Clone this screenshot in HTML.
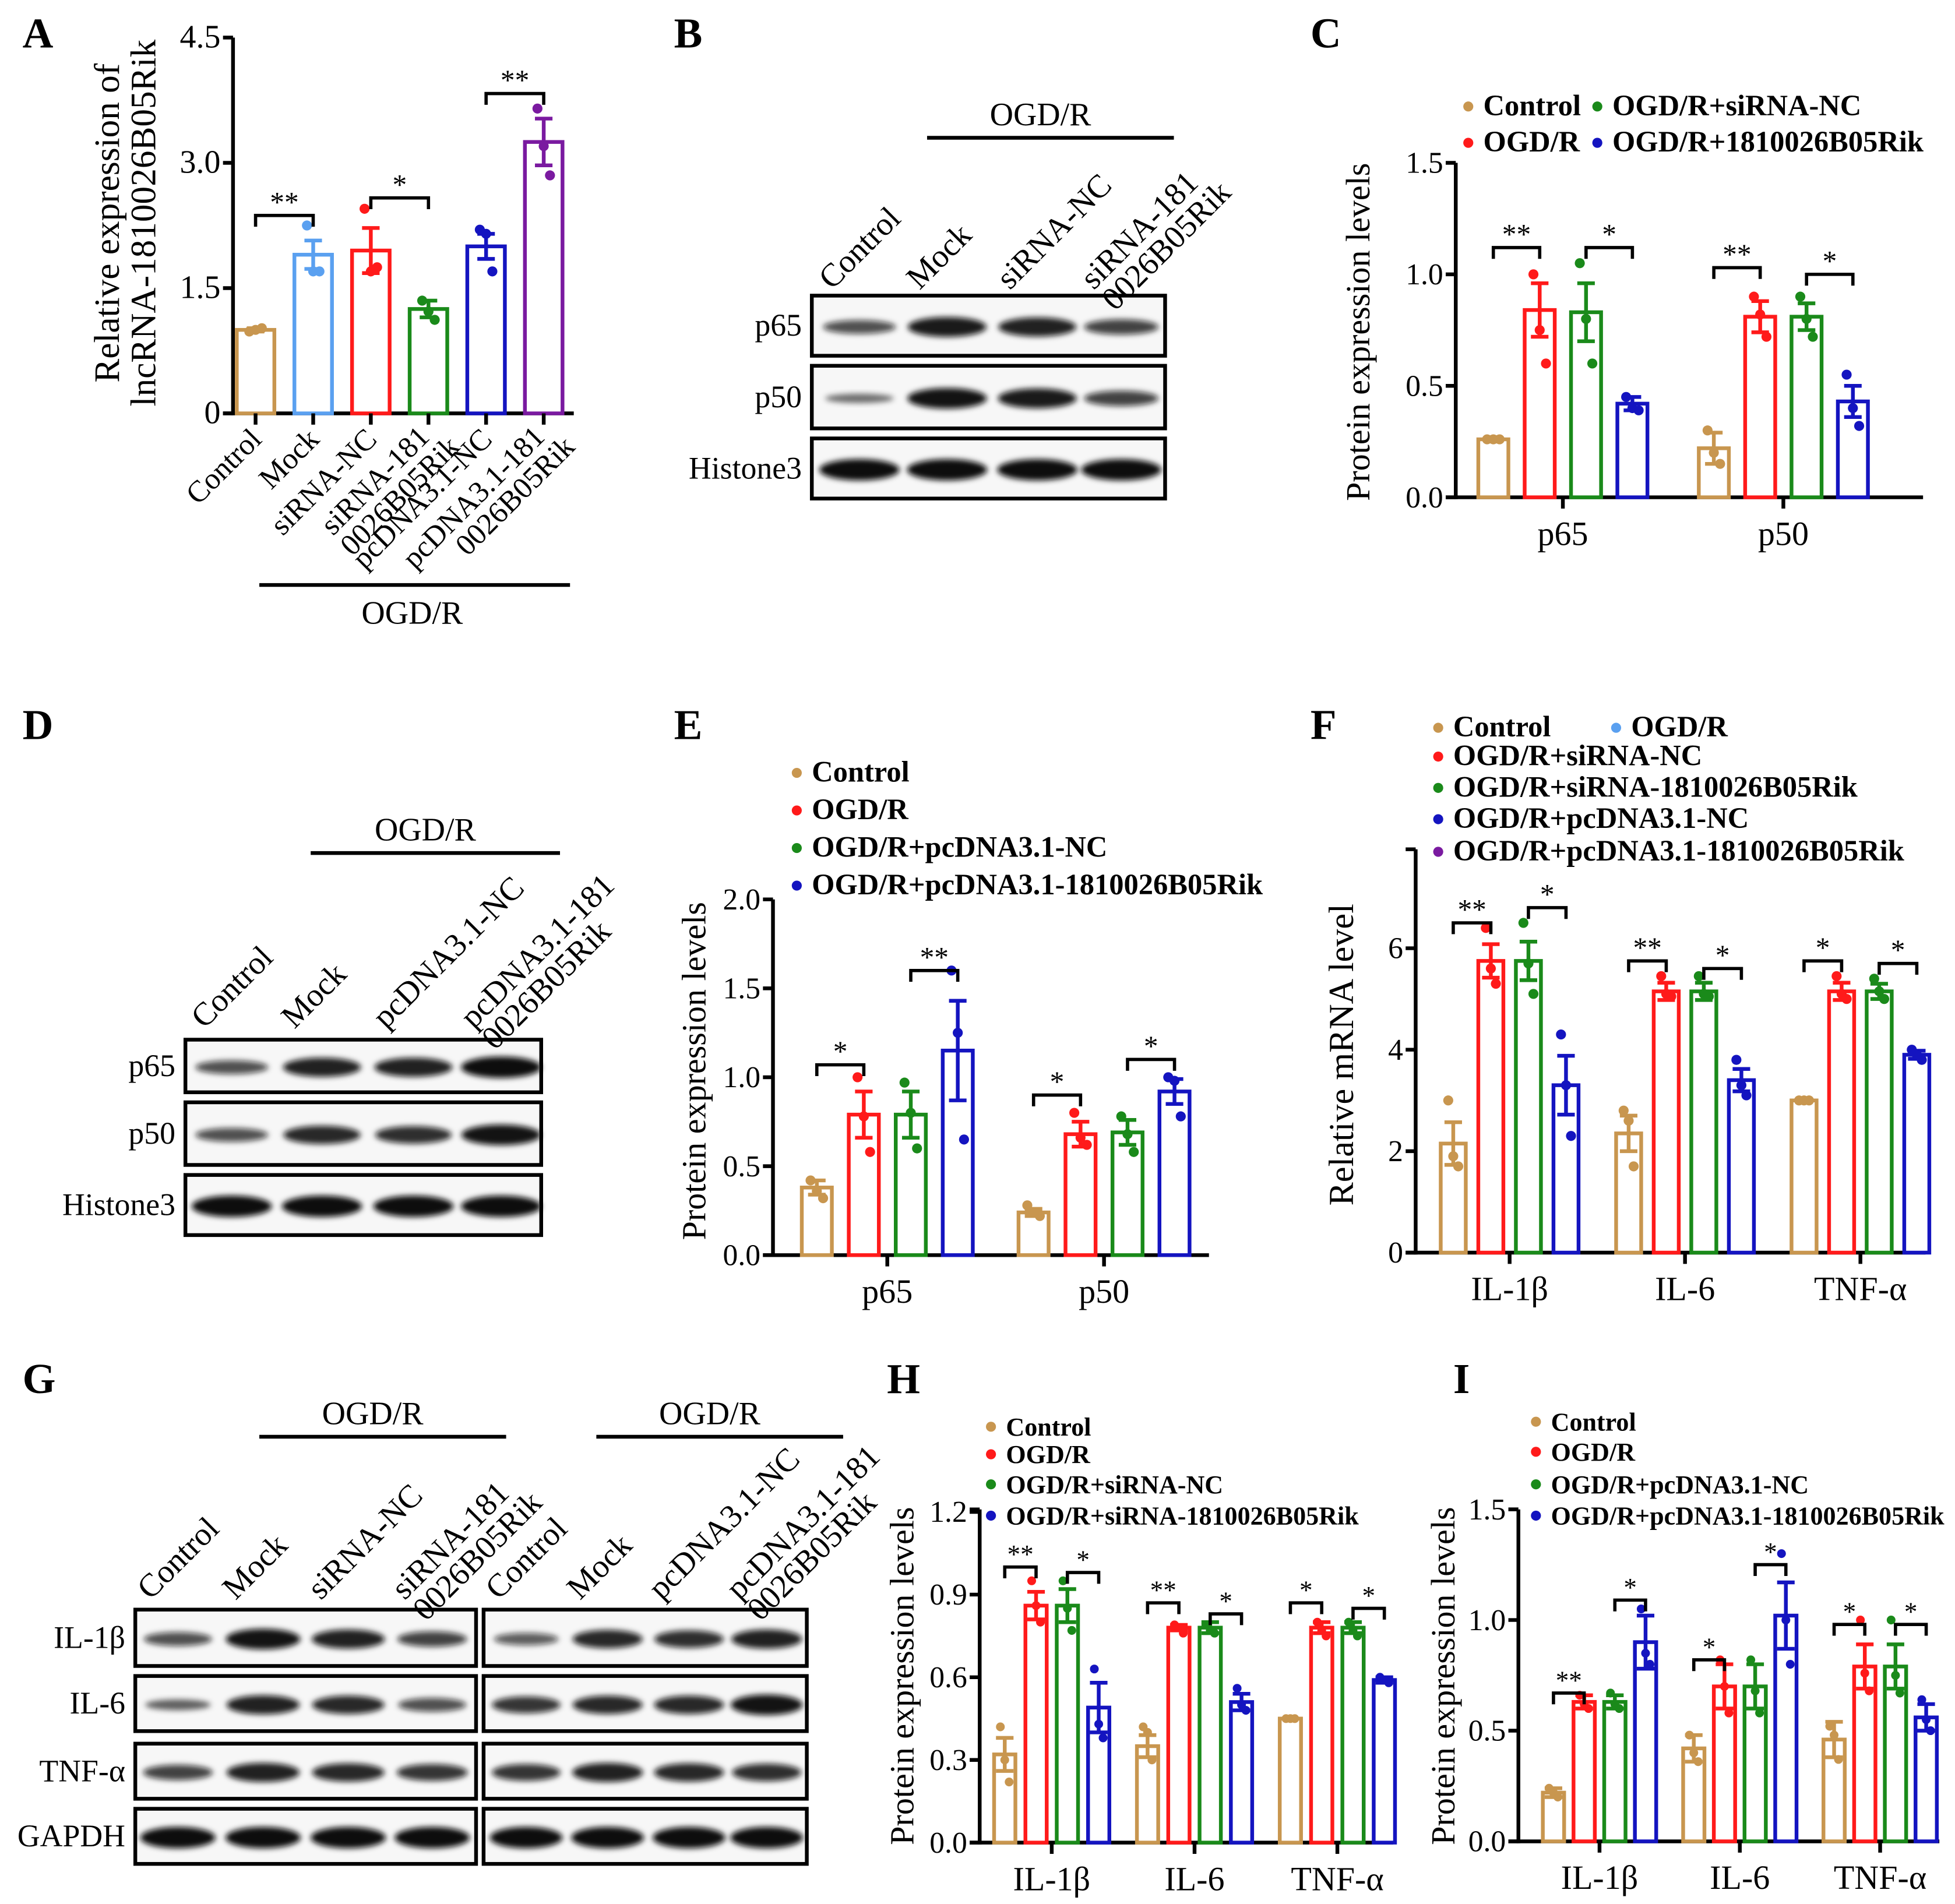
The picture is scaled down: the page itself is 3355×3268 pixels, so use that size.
<!DOCTYPE html>
<html><head><meta charset="utf-8">
<style>
html,body{margin:0;padding:0;background:#fff;}
svg{display:block;font-family:"Liberation Serif",serif;}
</style></head>
<body>
<svg id="fig" width="3355" height="3268" viewBox="0 0 1560.5 1520" xmlns="http://www.w3.org/2000/svg">
<defs><filter id="blur" x="-20%" y="-50%" width="140%" height="200%"><feGaussianBlur stdDeviation="2.2"/></filter></defs>
<g id="root"></g>
</svg>
<script>
// ---------- DATA ----------
const colTan="#c8964f", colLb="#5aa0f0", colRed="#ff1a1a", colGreen="#1a8a1a", colBlue="#1414c0", colPur="#7a1aa0";

// Panel A
const aCategories=["Control","Mock","siRNA-NC","siRNA-181|0026B05Rik","pcDNA3.1-NC","pcDNA3.1-181|0026B05Rik"];
const aValues=[1.0,1.9,1.95,1.25,2.0,3.25];
const aErr=[0.02,0.17,0.27,0.1,0.15,0.28];
const aPoints=[[0.98,1.0,1.02],[2.25,1.7,1.7],[2.45,1.7,1.75],[1.35,1.22,1.12],[2.2,2.15,1.7],[3.65,3.2,2.85]];
const aTicks=[0,1.5,3.0,4.5];
const aTickLabels=["0","1.5","3.0","4.5"];

// Panel C
const cGroups=["p65","p50"];
const cSeries=["Control","OGD/R","OGD/R+siRNA-NC","OGD/R+1810026B05Rik"];
const cValues=[[0.26,0.84,0.83,0.42],[0.22,0.81,0.81,0.43]];
const cErr=[[0.01,0.12,0.13,0.03],[0.07,0.07,0.06,0.07]];
const cPoints=[[[0.26,0.26,0.26],[1.0,0.75,0.6],[1.05,0.8,0.6],[0.45,0.4,0.39]],[[0.3,0.2,0.15],[0.9,0.82,0.72],[0.9,0.8,0.72],[0.55,0.4,0.32]]];
const cTicks=[0,0.5,1.0,1.5];
const cTickLabels=["0.0","0.5","1.0","1.5"];

// Panel E
const eGroups=["p65","p50"];
const eSeries=["Control","OGD/R","OGD/R+pcDNA3.1-NC","OGD/R+pcDNA3.1-1810026B05Rik"];
const eValues=[[0.38,0.79,0.79,1.15],[0.24,0.68,0.69,0.92]];
const eErr=[[0.04,0.13,0.13,0.28],[0.02,0.07,0.07,0.07]];
const ePoints=[[[0.42,0.36,0.32],[1.0,0.78,0.58],[0.97,0.8,0.6],[1.6,1.25,0.65]],[[0.28,0.24,0.22],[0.8,0.66,0.62],[0.78,0.68,0.58],[1.0,0.98,0.78]]];
const eTicks=[0,0.5,1.0,1.5,2.0];
const eTickLabels=["0.0","0.5","1.0","1.5","2.0"];

// Panel F
const fGroups=["IL-1β","IL-6","TNF-α"];
const fSeries=["Control","OGD/R","OGD/R+siRNA-NC","OGD/R+siRNA-1810026B05Rik","OGD/R+pcDNA3.1-NC","OGD/R+pcDNA3.1-1810026B05Rik"];
const fValues=[[2.15,5.75,5.75,3.3],[2.35,5.15,5.15,3.4],[3.0,5.15,5.15,3.9]];
const fErr=[[0.42,0.33,0.38,0.58],[0.35,0.17,0.17,0.22],[0.02,0.17,0.15,0.08]];
const fPoints=[[[3.0,1.9,1.7],[6.4,5.6,5.3],[6.5,5.7,5.1],[4.3,3.3,2.3]],[[2.8,2.6,1.7],[5.45,5.1,5.05],[5.45,5.1,5.05],[3.8,3.3,3.1]],[[3,3,3],[5.45,5.1,5.0],[5.4,5.15,5.0],[4,3.9,3.8]]];
const fTicks=[0,2,4,6];
const fTickLabels=["0","2","4","6"];

// Panel H
const hGroups=["IL-1β","IL-6","TNF-α"];
const hSeries=["Control","OGD/R","OGD/R+siRNA-NC","OGD/R+siRNA-1810026B05Rik"];
const hValues=[[0.32,0.86,0.86,0.49],[0.35,0.78,0.78,0.51],[0.45,0.78,0.78,0.59]];
const hErr=[[0.06,0.05,0.06,0.09],[0.04,0.01,0.02,0.03],[0.0,0.02,0.02,0.01]];
const hPoints=[[[0.42,0.3,0.22],[0.95,0.86,0.8],[0.95,0.85,0.77],[0.63,0.43,0.38]],[[0.42,0.4,0.3],[0.79,0.78,0.76],[0.79,0.77,0.76],[0.56,0.5,0.48]],[[0.45,0.45,0.45],[0.8,0.77,0.75],[0.8,0.77,0.75],[0.6,0.59,0.58]]];
const hTicks=[0,0.3,0.6,0.9,1.2];
const hTickLabels=["0.0","0.3","0.6","0.9","1.2"];

// Panel I
const iGroups=["IL-1β","IL-6","TNF-α"];
const iSeries=["Control","OGD/R","OGD/R+pcDNA3.1-NC","OGD/R+pcDNA3.1-1810026B05Rik"];
const iValues=[[0.22,0.63,0.63,0.9],[0.42,0.70,0.70,1.02],[0.46,0.79,0.79,0.56]];
const iErr=[[0.02,0.03,0.03,0.12],[0.06,0.1,0.1,0.15],[0.08,0.1,0.1,0.06]];
const iPoints=[[[0.24,0.22,0.2],[0.66,0.62,0.6],[0.67,0.62,0.6],[1.05,0.85,0.8]],[[0.48,0.4,0.36],[0.82,0.7,0.58],[0.82,0.68,0.58],[1.3,1.0,0.8]],[[0.52,0.48,0.37],[1.0,0.76,0.68],[1.0,0.75,0.67],[0.64,0.55,0.5]]];
const iTicks=[0,0.5,1.0,1.5];
const iTickLabels=["0.0","0.5","1.0","1.5"];

// Blot intensities
const bLanes=["Control","Mock","siRNA-NC","siRNA-181|0026B05Rik"];
const bRows=["p65","p50","Histone3"];
const bBands=[[0.5,0.9,0.85,0.6],[0.2,0.95,0.9,0.6],[1,1,1,1]];
const dLanes=["Control","Mock","pcDNA3.1-NC","pcDNA3.1-181|0026B05Rik"];
const dRows=["p65","p50","Histone3"];
const dBands=[[0.5,0.85,0.85,1],[0.5,0.8,0.75,0.95],[1,1,1,1]];
const gLanesL=["Control","Mock","siRNA-NC","siRNA-181|0026B05Rik"];
const gLanesR=["Control","Mock","pcDNA3.1-NC","pcDNA3.1-181|0026B05Rik"];
const gRows=["IL-1β","IL-6","TNF-α","GAPDH"];
const gBandsL=[[0.5,0.95,0.85,0.6],[0.3,0.85,0.8,0.5],[0.6,0.85,0.8,0.7],[1,1,1,1]];
const gBandsR=[[0.4,0.8,0.75,0.85],[0.7,0.8,0.8,0.95],[0.7,0.85,0.8,0.75],[1,1,1,1]];

// ---------- DRAWING ----------
const NS="http://www.w3.org/2000/svg";
const root=document.getElementById('root');
function mk(tag,attrs,parent,text){const e=document.createElementNS(NS,tag);for(const k in attrs)e.setAttribute(k,attrs[k]);if(text!==undefined)e.textContent=text;(parent||root).appendChild(e);return e;}

function label(x,y,t){const e=mk('text',{x:x,y:y,'font-size':34,'font-weight':'bold'},root,t);

}
label(18,38,"A");label(538,38,"B");label(1046,38,"C");label(18,590,"D");label(538,590,"E");label(1046,590,"F");label(18,1112,"G");label(708,1112,"H");label(1160,1112,"I");

function bracket(g,x1,x2,y,txt,fs){
  const p=mk('path',{d:`M${x1},${y+9}V${y}H${x2}V${y+9}`,fill:'none',stroke:'#000','stroke-width':2.6},g);
  
  
  const t=mk('text',{x:(x1+x2)/2,y:y-3,'text-anchor':'middle','font-size':fs||23},g,txt);
  
  
}

function barChart(o){
  const g=mk('g',{});
  
  
  const yS=v=>o.y0-v*o.ppu;
  const xS=(gi,bi)=>o.xStart+gi*o.gStep+bi*o.bStep;
  const ya=mk('line',{x1:o.x0,x2:o.x0,y1:o.yTop,y2:o.y0+1.5,stroke:'#000','stroke-width':3},g);
  
  const xa=mk('line',{x1:o.x0-8,x2:o.xEnd,y1:o.y0,y2:o.y0,stroke:'#000','stroke-width':3},g);
  
  o.ticks.forEach((v,i)=>{
    mk('line',{x1:o.x0-8,x2:o.x0,y1:yS(v),y2:yS(v),stroke:'#000','stroke-width':3},g);
    const t=mk('text',{x:o.x0-10,y:yS(v)+8,'text-anchor':'end','font-size':o.tfs||24},g,o.tickLabels[i]);
    
  });
  if(o.yTop<yS(o.ticks[o.ticks.length-1])) mk('line',{x1:o.x0-8,x2:o.x0,y1:o.yTop,y2:o.yTop,stroke:'#000','stroke-width':3},g);
  if(o.ylabel){const yl=mk('text',{x:0,y:0,'text-anchor':'middle','font-size':o.lfs||27,transform:`translate(${o.ylx},${o.yly}) rotate(-90)`},g,o.ylabel);
  }
  o.values.forEach((grp,gi)=>{
    grp.forEach((v,bi)=>{
      const cx=xS(gi,bi),c=o.colors[bi];
      const r=mk('rect',{x:cx-o.bw/2,y:yS(v),width:o.bw,height:o.y0-yS(v),fill:'#fff',stroke:c,'stroke-width':3},g);
      
      
      const e=o.err[gi][bi];
      mk('path',{d:`M${cx},${yS(v-e)}V${yS(v+e)}M${cx-7},${yS(v+e)}H${cx+7}M${cx-7},${yS(v-e)}H${cx+7}`,stroke:c,'stroke-width':3,fill:'none'},g);
      o.points[gi][bi].forEach((p,pi)=>{
        const d=mk('circle',{cx:cx+[-5,0,5][pi]*(o.jit||1),cy:yS(p),r:o.pr||4,fill:c},g);
        
      });
    });
    if(o.groups.length>1){
      const gc=(xS(gi,0)+xS(gi,grp.length-1))/2;
      mk('line',{x1:gc,x2:gc,y1:o.y0,y2:o.y0+9,stroke:'#000','stroke-width':3},g);
      const t=mk('text',{x:gc,y:o.y0+38,'text-anchor':'middle','font-size':o.xfs||27},g,o.groups[gi]);
      
    }
  });
  (o.sig||[]).forEach(s=>bracket(g,xS(s[0],s[1]),xS(s[0],s[2]),yS(s[3]),s[4],o.sfs));
  (o.legend||[]).forEach((L,i)=>{
    const d=mk('circle',{cx:L[0],cy:L[1]-7,r:4,fill:L[3]},g);
    
    const t=mk('text',{x:L[0]+12,y:L[1],'font-size':o.legfs||23.5,'font-weight':'bold'},g,L[2]);
    
  });
  return {g,xS,yS};
}

function rotLabel(g,x,y,txt,fs,anchor){
  const parts=txt.split('|');
  parts.forEach((p,i)=>{
    const t=mk('text',{x:0,y:0,'text-anchor':anchor,'font-size':fs,transform:`translate(${x+i*17},${y+i*17}) rotate(-45)`},g,p);
    
  });
}

// Panel A
(function(){
  const A=barChart({name:'chart-a',x0:186,y0:330,ppu:66.67,yTop:30,xEnd:458,ticks:aTicks,tickLabels:aTickLabels,
    ylabel:'',ylx:0,yly:0,values:[aValues],err:[aErr],points:[aPoints],groups:['all'],
    xStart:204,gStep:0,bStep:46,bw:30,colors:[colTan,colLb,colRed,colGreen,colBlue,colPur],
    sig:[[0,0,1,2.37,'**'],[0,2,3,2.58,'*'],[0,4,5,3.83,'**']],tfs:26});
  const g=A.g;
  [['Relative expression of',95],['lncRNA-1810026B05Rik',124]].forEach(a=>{
    const t=mk('text',{x:0,y:0,'text-anchor':'middle','font-size':28.5,transform:`translate(${a[1]},178) rotate(-90)`},g,a[0]);
    
  });
  aCategories.forEach((c,i)=>{
    const x=A.xS(0,i);
    mk('line',{x1:x,x2:x,y1:330,y2:339,stroke:'#000','stroke-width':3},g);
    const parts=c.split('|');
    if(parts.length==1) rotLabel(g,x+6,352,c,24,'end');
    else {rotLabel(g,x+2,350,parts[0],24,'end');rotLabel(g,x+26,358,parts[1],24,'end');}
  });
  const l=mk('line',{x1:207,x2:455,y1:467,y2:467,stroke:'#000','stroke-width':3},g);
  
  const t=mk('text',{x:329,y:498,'text-anchor':'middle','font-size':26},g,'OGD/R');
  
})();

const four=[colTan,colRed,colGreen,colBlue];
barChart({name:'chart-c',x0:1162,y0:397,ppu:178,yTop:130,xEnd:1535,ticks:cTicks,tickLabels:cTickLabels,
  ylabel:'Protein expression levels',ylx:1093,yly:265,values:cValues,err:cErr,points:cPoints,groups:cGroups,
  xStart:1192,gStep:176,bStep:37,bw:24,colors:four,
  sig:[[0,0,1,1.12,'**'],[0,2,3,1.12,'*'],[1,0,1,1.03,'**'],[1,2,3,1.0,'*']],
  legend:[[1172,92,'Control',colTan],[1275,92,'OGD/R+siRNA-NC',colGreen],[1172,121,'OGD/R',colRed],[1275,121,'OGD/R+1810026B05Rik',colBlue]]});

barChart({name:'chart-e',x0:617,y0:1002,ppu:142,yTop:718,xEnd:965,ticks:eTicks,tickLabels:eTickLabels,
  ylabel:'Protein expression levels',ylx:563,yly:855,values:eValues,err:eErr,points:ePoints,groups:eGroups,
  xStart:652,gStep:173,bStep:37.5,bw:24,colors:four,
  sig:[[0,0,1,1.07,'*'],[0,2,3,1.6,'**'],[1,0,1,0.9,'*'],[1,2,3,1.1,'*']],
  legend:[[636,624,'Control',colTan],[636,654,'OGD/R',colRed],[636,684,'OGD/R+pcDNA3.1-NC',colGreen],[636,714,'OGD/R+pcDNA3.1-1810026B05Rik',colBlue]]});

barChart({name:'chart-f',x0:1130,y0:1000,ppu:40.5,yTop:678,xEnd:1537,ticks:fTicks,tickLabels:fTickLabels,
  ylabel:'Relative mRNA level',ylx:1080,yly:842,values:fValues,err:fErr,points:fPoints,groups:fGroups,lfs:28,
  xStart:1160,gStep:140,bStep:30,bw:20,colors:four,jit:0.8,
  sig:[[0,0,1,6.5,'**'],[0,2,3,6.8,'*'],[1,0,1,5.75,'**'],[1,2,3,5.6,'*'],[2,0,1,5.75,'*'],[2,2,3,5.7,'*']],
  legend:[[1148,588,'Control',colTan],[1290,588,'OGD/R',colLb],[1148,611,'OGD/R+siRNA-NC',colRed],[1148,636,'OGD/R+siRNA-1810026B05Rik',colGreen],[1148,661,'OGD/R+pcDNA3.1-NC',colBlue],[1148,687,'OGD/R+pcDNA3.1-1810026B05Rik',colPur]]});

barChart({name:'chart-h',x0:782,y0:1471,ppu:220,yTop:1205,xEnd:1112,ticks:hTicks,tickLabels:hTickLabels,
  ylabel:'Protein expression levels',ylx:729,yly:1338,values:hValues,err:hErr,points:hPoints,groups:hGroups,
  xStart:802,gStep:114,bStep:25,bw:17,colors:four,jit:0.7,pr:3.5,sfs:21,legfs:20.5,
  sig:[[0,0,1,1.0,'**'],[0,2,3,0.98,'*'],[1,0,1,0.87,'**'],[1,2,3,0.83,'*'],[2,0,1,0.87,'*'],[2,2,3,0.85,'*']],
  legend:[[791,1146,'Control',colTan],[791,1168,'OGD/R',colRed],[791,1192,'OGD/R+siRNA-NC',colGreen],[791,1217,'OGD/R+siRNA-1810026B05Rik',colBlue]]});

barChart({name:'chart-i',x0:1212,y0:1470,ppu:176.7,yTop:1205,xEnd:1548,ticks:iTicks,tickLabels:iTickLabels,
  ylabel:'Protein expression levels',ylx:1161,yly:1338,values:iValues,err:iErr,points:iPoints,groups:iGroups,
  xStart:1240,gStep:112,bStep:24.5,bw:17,colors:four,jit:0.7,pr:3.5,sfs:21,legfs:20.5,
  sig:[[0,0,1,0.67,'**'],[0,2,3,1.09,'*'],[1,0,1,0.82,'*'],[1,2,3,1.25,'*'],[2,0,1,0.98,'*'],[2,2,3,0.98,'*']],
  legend:[[1226,1142,'Control',colTan],[1226,1166,'OGD/R',colRed],[1226,1192,'OGD/R+pcDNA3.1-NC',colGreen],[1226,1217,'OGD/R+pcDNA3.1-1810026B05Rik',colBlue]]});

// Blots
function blot(o){
  const g=mk('g',{});
  
  
  o.rows.forEach((ry,ri)=>{
    const box=mk('rect',{x:o.x1,y:ry[0],width:o.x2-o.x1,height:ry[1]-ry[0],fill:'#f7f7f7',stroke:'#000','stroke-width':3},g);
    
    const cy=(ry[0]+ry[1])/2;
    o.bands[ri].forEach((v,ci)=>{
      const b=mk('ellipse',{cx:o.cols[ci],cy:cy+1,rx:o.rx*(0.82+0.18*v),ry:2.5+6*v,fill:'#0a0a0a','fill-opacity':0.45+0.55*v,filter:'url(#blur)'},g);
      
    });
    if(o.labels){const t=mk('text',{x:o.x1-8,y:cy+8,'text-anchor':'end','font-size':25},g,o.labels[ri]);
      }
  });
  if(o.lanes) o.lanes.forEach((l,ci)=>rotLabel(g,o.cols[ci]-22,o.laneY,l,26,'start'));
  if(o.line){const l=mk('line',{x1:o.line[0],x2:o.line[1],y1:o.line[2],y2:o.line[2],stroke:'#000','stroke-width':3},g);
    
    const t=mk('text',{x:(o.line[0]+o.line[1])/2-8,y:o.line[2]-10,'text-anchor':'middle','font-size':26},g,'OGD/R');
    }
}
blot({name:'blot-b',x1:648,x2:930,rows:[[236,284],[292,342],[350,398]],cols:[686,756,828,895],rx:32,bands:bBands,labels:bRows,lanes:bLanes,laneY:232,line:[740,937,110]});
blot({name:'blot-d',x1:148,x2:432,rows:[[830,872],[880,930],[938,986]],cols:[185,257,330,400],rx:32,bands:dBands,labels:dRows,lanes:dLanes,laneY:822,line:[248,447,681]});
blot({name:'blot-g-left',x1:108,x2:380,rows:[[1285,1330],[1338,1382],[1392,1436],[1444,1488]],cols:[142,210,278,345],rx:30,bands:gBandsL,labels:gRows,lanes:gLanesL,laneY:1278,line:[207,404,1147]});
blot({name:'blot-g-right',x1:386,x2:644,rows:[[1285,1330],[1338,1382],[1392,1436],[1444,1488]],cols:[420,485,550,612],rx:29,bands:gBandsR,lanes:gLanesR,laneY:1278,line:[476,673,1147]});
</script>
</body></html>
